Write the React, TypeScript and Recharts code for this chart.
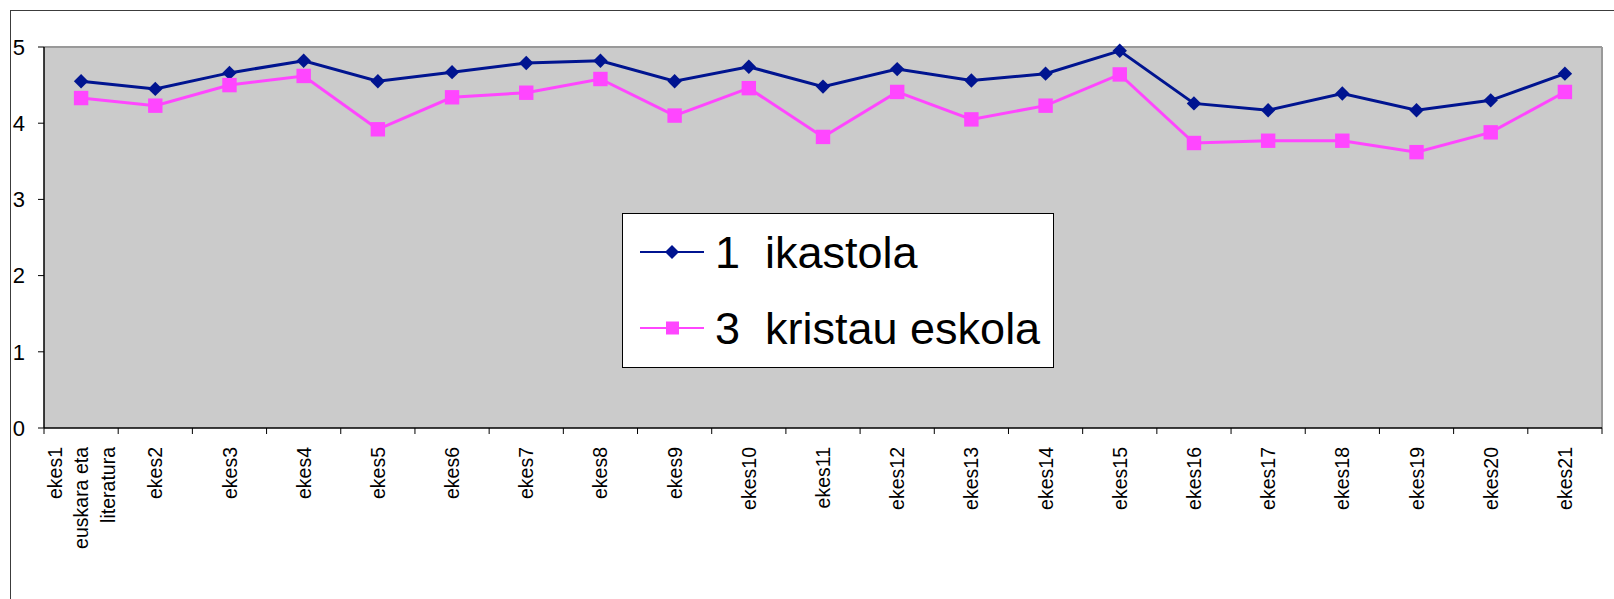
import React from "react";
import { LineChart, Line, XAxis, YAxis, CartesianGrid, ReferenceLine, Legend } from "recharts";

// categorías del eje X (la primera lleva tres líneas)
const categories = [
  "ekes1\neuskara eta\nliteratura",
  "ekes2", "ekes3", "ekes4", "ekes5", "ekes6", "ekes7", "ekes8", "ekes9", "ekes10",
  "ekes11", "ekes12", "ekes13", "ekes14", "ekes15", "ekes16", "ekes17", "ekes18",
  "ekes19", "ekes20", "ekes21",
];

const ikastola = [
  4.55, 4.45, 4.66, 4.82, 4.55, 4.67, 4.79, 4.82, 4.55, 4.74, 4.48,
  4.71, 4.56, 4.65, 4.95, 4.26, 4.17, 4.39, 4.17, 4.3, 4.65,
];

const kristauEskola = [
  4.33, 4.23, 4.5, 4.62, 3.92, 4.34, 4.4, 4.58, 4.1, 4.46, 3.82,
  4.41, 4.05, 4.23, 4.64, 3.74, 3.77, 3.77, 3.62, 3.88, 4.41,
];

const seriesNames = ["1  ikastola", "3  kristau eskola"];
const yTicks = [0, 1, 2, 3, 4, 5];
const xBounds = categories.map((_, i) => i).concat(categories.length);

const BLUE = "#001490";
const PINK = "#FF46FF";
const FONT = "'Liberation Sans', Arial, sans-serif";

// each point sits in the middle of its category slot
const data = categories.map((c, i) => ({
  pos: i + 0.5,
  name: c,
  ikastola: ikastola[i],
  kristau: kristauEskola[i],
}));

const Diamond = (props: any) => {
  const { cx, cy, index, size = 7.2 } = props;
  if (cx == null || cy == null) return <g key={index} />;
  return (
    <polygon
      key={index}
      points={`${cx},${cy - size} ${cx + size},${cy} ${cx},${cy + size} ${cx - size},${cy}`}
      fill={BLUE}
    />
  );
};

const Square = (props: any) => {
  const { cx, cy, index, size = 7.2 } = props;
  if (cx == null || cy == null) return <g key={index} />;
  return <rect key={index} x={cx - size} y={cy - size} width={size * 2} height={size * 2} fill={PINK} />;
};

// labels go in the middle between two boundary ticks
const CategoryTick = (props: any) => {
  const { x, y, index, width } = props;
  if (index >= categories.length) return <g />;
  const slot = (width || 1558) / categories.length;
  const cx = x + slot / 2;
  const lines = categories[index].split("\n");
  const gap = 26.5;
  return (
    <g>
      {lines.map((ln, i) => (
        <text
          key={i}
          transform={`translate(${cx + (i - (lines.length - 1) / 2) * gap},${y}) rotate(-90)`}
          textAnchor="end"
          dy="0.36em"
          fontSize={19.5}
          fontFamily={FONT}
          fill="#000"
        >
          {ln}
        </text>
      ))}
    </g>
  );
};

const LegendBox = ({ payload }: any) => {
  const rows = payload || [];
  return (
    <svg width={432} height={155} style={{ display: "block" }}>
      <rect x={0.5} y={0.5} width={431} height={154} fill="#fff" stroke="#000" />
      {rows.map((p: any, i: number) => {
        const cy = 39 + i * 76;
        return (
          <g key={p.value}>
            <line x1={18} x2={82} y1={cy} y2={cy} stroke={p.color} strokeWidth={2} />
            {i === 0 ? (
              <polygon points={`50,${cy - 7} 57,${cy} 50,${cy + 7} 43,${cy}`} fill={p.color} />
            ) : (
              <rect x={44} y={cy - 6.5} width={13} height={13} fill={p.color} />
            )}
            <text
              x={93}
              y={cy + 16}
              fontSize={45}
              fontFamily={FONT}
              fill="#000"
              style={{ whiteSpace: "pre" }}
            >
              {p.value}
            </text>
          </g>
        );
      })}
    </svg>
  );
};

export default function App() {
  return (
    <div style={{ position: "fixed", left: 0, top: 0, width: 1614, height: 599, overflow: "hidden", background: "#fff" }}>
      <div
        style={{
          position: "absolute",
          left: 10,
          top: 10,
          width: 1700,
          height: 700,
          border: "1px solid #3c3c3c",
        }}
      />
      <div style={{ position: "absolute", left: 0, top: 0 }}>
        <LineChart width={1614} height={599} data={data} margin={{ top: 47, right: 12, bottom: 0, left: 0 }}>
          <CartesianGrid fill="#CBCBCB" horizontal={false} vertical={false} stroke="none" />
          <XAxis
            dataKey="pos"
            type="number"
            domain={[0, categories.length]}
            ticks={xBounds}
            interval={0}
            height={171}
            tickSize={6}
            tickMargin={13}
            axisLine={{ stroke: "#000", strokeWidth: 1.5 }}
            tickLine={{ stroke: "#000" }}
            tick={<CategoryTick />}
          />
          <YAxis
            domain={[0, 5]}
            ticks={yTicks}
            interval={0}
            width={44}
            tickSize={6}
            tickMargin={13}
            axisLine={{ stroke: "#000", strokeWidth: 1.5 }}
            tickLine={{ stroke: "#000" }}
            tick={{ fontSize: 22, fontFamily: FONT, fill: "#000" }}
          />
          <ReferenceLine y={5} stroke="#999" strokeWidth={2} />
          <ReferenceLine x={categories.length} stroke="#999" strokeWidth={2} />
          <Legend
            layout="vertical"
            align="center"
            verticalAlign="middle"
            content={<LegendBox />}
            wrapperStyle={{ left: 622, top: 213, width: 432, height: 155 }}
          />
          <Line
            dataKey="ikastola"
            name={seriesNames[0]}
            stroke={BLUE}
            strokeWidth={3}
            dot={<Diamond />}
            activeDot={false}
            isAnimationActive={false}
          />
          <Line
            dataKey="kristau"
            name={seriesNames[1]}
            stroke={PINK}
            strokeWidth={3}
            dot={<Square />}
            activeDot={false}
            isAnimationActive={false}
          />
        </LineChart>
      </div>
    </div>
  );
}
